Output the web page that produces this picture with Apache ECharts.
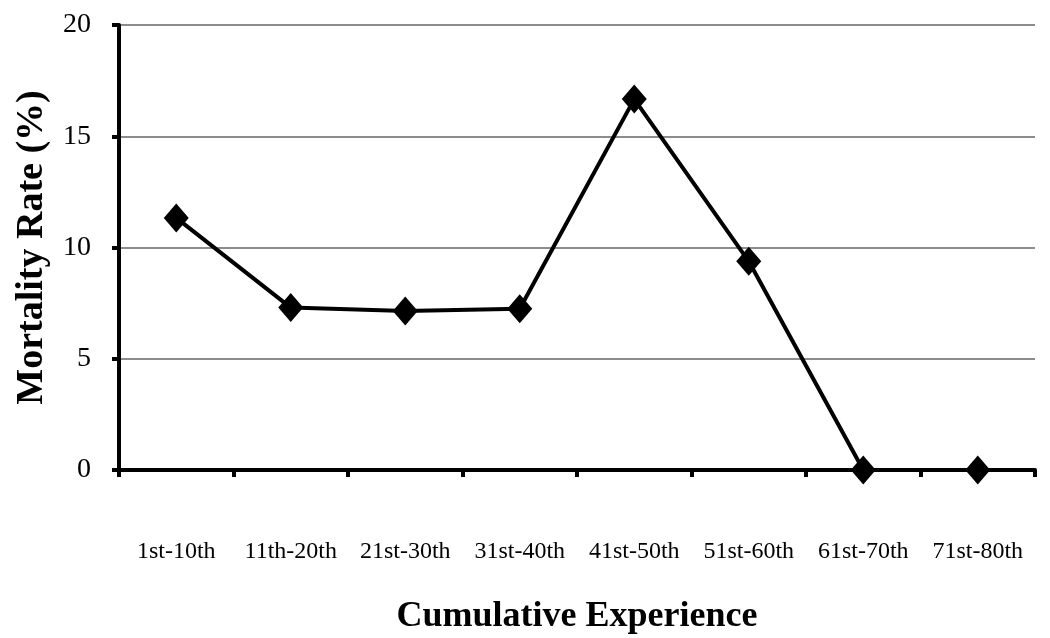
<!DOCTYPE html>
<html>
<head>
<meta charset="utf-8">
<script src="https://cdn.jsdelivr.net/npm/echarts@6/dist/echarts.min.js"></script>
<style>
html,body{margin:0;padding:0;background:#fff}
#main{width:1050px;height:638px}
</style>
</head>
<body>
<div id="main"></div>
<script>
// 数据
var categories = ['1st-10th','11th-20th','21st-30th','31st-40th','41st-50th','51st-60th','61st-70th','71st-80th']
var mortality = [11.33, 7.3, 7.15, 7.25, 16.67, 9.38, 0, 0]
var yTicks = [0, 5, 10, 15, 20]

var myChart = echarts.init(document.getElementById('main'))
var option = {
	animation: false,
	grid: {
		left: 119,
		right: 15,
		top: 25,
		bottom: 168,
		outerBoundsMode: 'none'
	},
	xAxis: {
		type: 'category',
		data: categories,
		boundaryGap: true,
		name: 'Cumulative Experience',
		nameLocation: 'middle',
		nameGap: 129,
		nameTextStyle: {
			fontFamily: 'Liberation Serif',
			fontSize: 36,
			fontWeight: 'bold',
			color: '#000'
		},
		axisLine: {lineStyle: {color: '#000', width: 4}},
		axisTick: {show: true, interval: 0, length: 7, lineStyle: {color: '#000', width: 4}},
		axisLabel: {
			interval: 0,
			margin: 70,
			fontFamily: 'Liberation Serif',
			fontSize: 24,
			color: '#000'
		}
	},
	yAxis: {
		type: 'value',
		min: yTicks[0],
		max: yTicks[yTicks.length - 1],
		interval: 5,
		name: 'Mortality Rate (%)',
		nameLocation: 'middle',
		nameGap: 68,
		nameTextStyle: {
			fontFamily: 'Liberation Serif',
			fontSize: 38,
			fontWeight: 'bold',
			color: '#000'
		},
		axisLine: {show: true, lineStyle: {color: '#000', width: 4}},
		axisTick: {show: true, length: 7, lineStyle: {color: '#000', width: 4}},
		splitLine: {show: true, lineStyle: {color: '#8c8c8c', width: 2}},
		axisLabel: {
			margin: 28,
			fontFamily: 'Liberation Serif',
			fontSize: 28,
			color: '#000'
		}
	},
	series: [
		{
			name: 'Mortality Rate',
			type: 'line',
			data: mortality,
			symbol: 'diamond',
			symbolSize: [25, 29],
			itemStyle: {color: '#000'},
			lineStyle: {color: '#000', width: 4},
			z: 5
		}
	]
}
myChart.setOption(option)
</script>
</body>
</html>
